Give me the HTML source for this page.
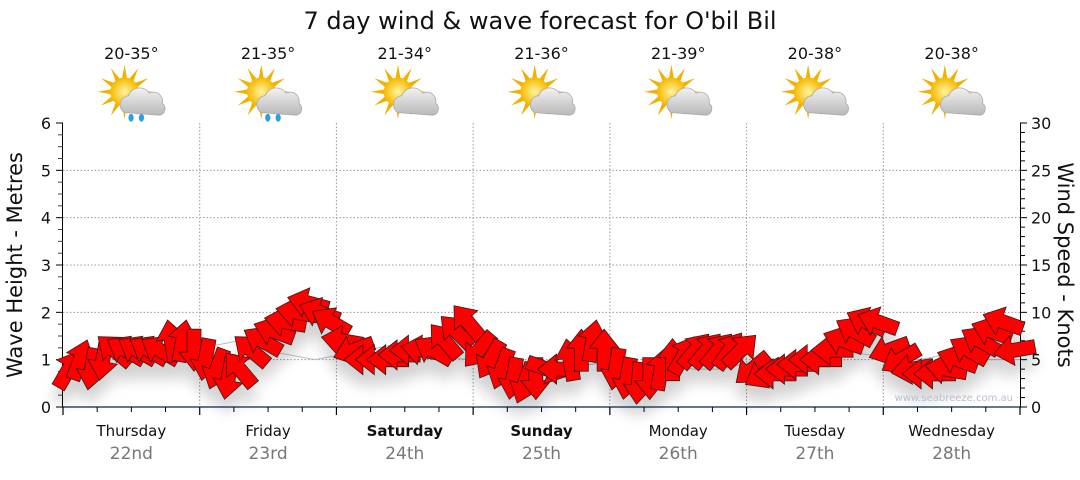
<!DOCTYPE html>
<html><head><meta charset="utf-8">
<style>
body{margin:0;background:#fff;}
svg text{font-family:"DejaVu Sans","Liberation Sans",sans-serif;}
</style></head>
<body>
<svg id="chart" width="1080" height="475" viewBox="0 0 1080 475" xmlns="http://www.w3.org/2000/svg">
<defs>
<filter id="shadow" x="-20%" y="-20%" width="140%" height="160%">
<feGaussianBlur in="SourceAlpha" stdDeviation="7"/>
<feOffset dx="0" dy="14" result="b"/>
<feComponentTransfer><feFuncA type="linear" slope="0.18"/></feComponentTransfer>
<feMerge><feMergeNode/><feMergeNode in="SourceGraphic"/></feMerge>
</filter>
<radialGradient id="sunG" cx="50%" cy="50%" r="50%"><stop offset="0" stop-color="#fff4a0"/><stop offset="1" stop-color="#f5b800"/></radialGradient>
<linearGradient id="cloudG" x1="0" y1="0" x2="0" y2="1"><stop offset="0" stop-color="#f2f2f2"/><stop offset="1" stop-color="#b8b8b8"/></linearGradient>
</defs>
<text x="540" y="29" font-size="24" text-anchor="middle" fill="#111">7 day wind &amp; wave forecast for O'bil Bil</text>
<g id="grid"></g>
<g id="icons"></g>
<g id="axes"></g>
<g id="waves"></g>
<g id="arrows" filter="url(#shadow)"></g>
<text x="1013" y="401" font-size="10" text-anchor="end" fill="#b8c0cc">www.seabreeze.com.au</text>
<text transform="translate(22,265) rotate(-90)" font-size="21" text-anchor="middle" fill="#111">Wave Height - Metres</text>
<text transform="translate(1058,265) rotate(90)" font-size="21" text-anchor="middle" fill="#111">Wind Speed - Knots</text>
</svg>
<script>
const days = ["Thursday","Friday","Saturday","Sunday","Monday","Tuesday","Wednesday"];
const dates = ["22nd","23rd","24th","25th","26th","27th","28th"];
const boldDays = [false,false,true,true,false,false,false];
const temps = ["20-35°","21-35°","21-34°","21-36°","21-39°","20-38°","20-38°"];
const rainy = [true,true,false,false,false,false,false];
const leftTicks = [0,1,2,3,4,5,6];
const rightTicks = [0,5,10,15,20,25,30];
const windSpeed = [
4,5,4,5,6,6,6,6,6,7,7,6,
5,4,3,4,6,7,8,9,10,11,10,9,
7,6,5,5,5,5.5,6,6,6,7,8,9,
6,5,4,3,2.5,3,4,4,5,6,7,6,
4,3,2.5,3,4,5,5.5,6,6,6,6,6,
4,3.5,3.5,4,4.5,5,5,6,7,8,9,9,
6,5,4,3.5,3.5,4,5,6,7,8,9,6];
const windDir = [
-60,-70,100,100,-140,-150,-150,-150,-150,-100,-80,90,
100,110,100,-130,-140,-150,-160,-170,-170,-165,-160,-150,
-170,160,180,180,180,180,180,-170,-150,-130,-135,-130,
130,120,110,100,110,90,20,180,-100,-90,-80,-90,
100,100,95,90,-80,-90,-60,-50,-50,-50,-55,-45,
140,150,180,180,180,180,180,180,-160,-150,-155,-160,
160,150,170,180,180,-170,-160,-150,-150,-160,-160,170];
const waveHeight = [0.9,1.0,1.1,1.1,1.0,1.1,1.3,1.4,1.2,1.1,1.0,1.1,1.2,1.3,1.2,1.1,1.0,0.9,0.9,0.8,0.9,0.9,1.0,0.9,0.9,0.8,0.8,0.9,1.0,1.0,1.1,1.2,1.1,1.0,1.0,1.1,1.0,1.0,1.0];

const X0=63,X1=1020,Y0=407,Y1=123;
const dayW=(X1-X0)/7;
const yWave=v=>Y0-(v/6)*(Y0-Y1);
const yWind=v=>Y0-(v/30)*(Y0-Y1);
const xIdx=(i,n)=>X0+(i+0.5)*(X1-X0)/n;
const NS="http://www.w3.org/2000/svg";
function mk(tag,attrs,parent,txt){const e=document.createElementNS(NS,tag);for(const k in attrs)e.setAttribute(k,attrs[k]);if(txt!==undefined)e.textContent=txt;parent.appendChild(e);return e;}
const grid=document.getElementById('grid'),axes=document.getElementById('axes'),icons=document.getElementById('icons');
leftTicks.forEach(t=>{if(t>0&&t<6){const l=mk('line',{x1:X0,x2:X1,y1:yWave(t),y2:yWave(t),stroke:'#999','stroke-dasharray':'1.5,2','stroke-width':1},grid);

}});
for(let d=1;d<7;d++){const x=X0+d*dayW;const l=mk('line',{x1:x,x2:x,y1:Y1,y2:Y0,stroke:'#999','stroke-dasharray':'1.5,2'},grid);

}
mk('line',{x1:X0-0.5,x2:X0-0.5,y1:Y1,y2:Y0,stroke:'#000'},axes);
mk('line',{x1:X1+0.5,x2:X1+0.5,y1:Y1,y2:Y0,stroke:'#000'},axes);
mk('line',{x1:X0-1,x2:X1+1,y1:Y0,y2:Y0,stroke:'#2b4c6f','stroke-width':1.5},axes);
leftTicks.forEach(t=>{const y=yWave(t);mk('line',{x1:X0-7,x2:X0,y1:y,y2:y,stroke:'#000'},axes);
const tx=mk('text',{x:X0-12,y:y+6,'font-size':16,'text-anchor':'end',fill:'#111'},axes,String(t));


if(t<6){for(let k=1;k<4;k++){const yy=yWave(t+k*0.25);mk('line',{x1:X0-5,x2:X0,y1:yy,y2:yy,stroke:'#444'},axes);}}});
for(let k=0;k<=30;k++){const y=yWind(k);mk('line',{x1:X1,x2:X1+(k%5===0?7:5),y1:y,y2:y,stroke:'#000'},axes);}
rightTicks.forEach(t=>{const tx=mk('text',{x:X1+11,y:yWind(t)+6,'font-size':16,fill:'#111'},axes,String(t));

});
for(let d=0;d<=7;d++){const x=X0+d*dayW;mk('line',{x1:x,x2:x,y1:Y0,y2:Y0+8,stroke:'#000','stroke-width':1.2},axes);
if(d<7){for(let k=1;k<4;k++){const xx=x+k*dayW/4;mk('line',{x1:xx,x2:xx,y1:Y0,y2:Y0+5,stroke:'#000'},axes);}}}
days.forEach((d,i)=>{const cx=X0+(i+0.5)*dayW;
const t=mk('text',{x:cx,y:436,'font-size':15,'text-anchor':'middle',fill:'#111','font-weight':boldDays[i]?'bold':'normal'},axes,d);


const t2=mk('text',{x:cx,y:459,'font-size':17,'text-anchor':'middle',fill:'#777'},axes,dates[i]);


const t3=mk('text',{x:cx,y:59,'font-size':16,'text-anchor':'middle',fill:'#111'},icons,temps[i]);


const g=mk('g',{transform:`translate(${cx+1},97) scale(1.3)`},icons);


for(let r=0;r<12;r++){const a=r*30*Math.PI/180;mk('polygon',{points:`${Math.cos(a)*21},${Math.sin(a)*21} ${Math.cos(a+0.2)*10},${Math.sin(a+0.2)*10} ${Math.cos(a-0.2)*10},${Math.sin(a-0.2)*10}`,fill:'#f2b000',transform:'translate(-6,-4)'},g);}
mk('circle',{cx:-6,cy:-4,r:11,fill:'url(#sunG)'},g);
mk('path',{d:'M-6,12 a7,7 0 0 1 3,-13 a9,9 0 0 1 16,-2 a7,7 0 0 1 10,8 a5,5 0 0 1 -2,9 z',fill:'url(#cloudG)',stroke:'#aaa','stroke-width':0.6},g);
if(rainy[i]){mk('ellipse',{cx:-1,cy:16,rx:2,ry:3,fill:'#2aa0e0'},g);mk('ellipse',{cx:7,cy:16,rx:2,ry:3,fill:'#2aa0e0'},g);}
});
const wv=document.getElementById('waves');
const pts=waveHeight.map((v,i)=>`${X0+i*(X1-X0)/(waveHeight.length-1)},${yWave(v)}`).join(' ');
const pl=mk('polyline',{points:pts,fill:'none',stroke:'#bbb','stroke-width':1},wv);


const ag=document.getElementById('arrows');
windSpeed.forEach((s,i)=>{const x=xIdx(i,windSpeed.length),y=yWind(s);
const p=mk('polygon',{points:'-21,-7 2,-7 2,-15 21,0 2,15 2,7 -21,7',fill:'#ff0000',stroke:'#3a1a1a','stroke-width':0.8,transform:`translate(${x},${y}) rotate(${windDir[i]})`},ag);

});
</script>
</body></html>
